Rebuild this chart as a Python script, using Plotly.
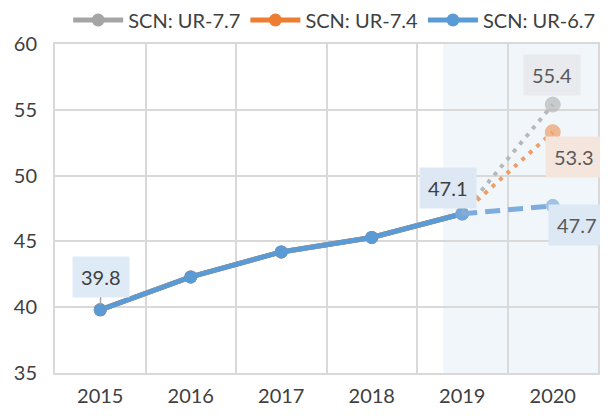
import plotly.graph_objects as go

years = ["2015", "2016", "2017", "2018", "2019", "2020"]
hist_years = ["2015", "2016", "2017", "2018", "2019"]
hist_values = [39.8, 42.3, 44.2, 45.3, 47.1]
fc_years = ["2019", "2020"]
scn_names = ["SCN: UR-7.7", "SCN: UR-7.4", "SCN: UR-6.7"]
scn_2020 = [55.4, 53.3, 47.7]

FONT = "Lato"
colors = ["#A5A5A5", "#ED7D31", "#5B9BD5"]
fc_colors = ["#B8B8B8", "#EE9E68", "#7EADDD"]
fc_dash = ["4px,6px", "4px,6px", "15px,8px"]
fc_width = [4, 4, 5]
fc_msize = [15, 15, 13]

fig = go.Figure()

# historical lines (overlapping; blue on top)
for name, c in zip(scn_names, colors):
    fig.add_trace(go.Scatter(
        x=hist_years, y=hist_values, mode="lines+markers", name=name,
        line=dict(color=c, width=5), marker=dict(color=c, size=13),
    ))

# forecast segments
for i in range(3):
    fig.add_trace(go.Scatter(
        x=fc_years, y=[hist_values[-1], scn_2020[i]], mode="lines+markers",
        showlegend=False, hoverinfo="skip",
        line=dict(color=fc_colors[i], width=fc_width[i], dash=fc_dash[i]),
        marker=dict(color=fc_colors[i], size=[0 if i < 2 else 13, fc_msize[i]],
                    line=dict(color=fc_colors[i], width=1)),
    ))

# forecast shaded region
fig.add_shape(type="rect", xref="x", yref="paper", x0=3.79, x1=5.5, y0=0, y1=1,
              fillcolor="#F1F6FB", line_width=0, layer="below")

label_font = dict(family=FONT, size=20, color="#595959")
dark_font = dict(family=FONT, size=20, color="#404040")
i_2015 = years.index("2015")
i_2019 = years.index("2019")
i_2020 = years.index("2020")
annos = [
    dict(x=i_2015, y=hist_values[0], text=str(hist_values[0]), showarrow=True,
         ax=1, ay=-33, axref="pixel", ayref="pixel", arrowhead=0, arrowwidth=1.5,
         arrowcolor="#A6A6A6", standoff=5, bgcolor="#DEEBF7", borderpad=8, font=dark_font),
    dict(x=i_2019, y=hist_values[-1], text=str(hist_values[-1]), showarrow=False,
         xshift=-14, yshift=26, bgcolor="#DDE8F4", borderpad=8, font=dark_font),
    dict(x=i_2020, y=scn_2020[0], text=str(scn_2020[0]), showarrow=False,
         xshift=-1, yshift=30, bgcolor="#E8EAED", borderpad=8, font=label_font),
    dict(x=i_2020, y=scn_2020[1], text=str(scn_2020[1]), showarrow=False,
         xshift=21, yshift=-25, bgcolor="#F5E6DD", borderpad=8, font=label_font),
    dict(x=i_2020, y=scn_2020[2], text=str(scn_2020[2]), showarrow=False,
         xshift=24, yshift=-19, bgcolor="#DCE8F4", borderpad=8, font=label_font),
]
for a in annos:
    a.update(xref="x", yref="y")

grid = "#D9D9D9"
fig.update_layout(
    width=600, height=408,
    margin=dict(l=47, r=10, t=36, b=43, autoexpand=False),
    paper_bgcolor="white", plot_bgcolor="rgba(0,0,0,0)",
    font=dict(family=FONT, size=20, color="#404040"),
    showlegend=True,
    annotations=annos,
    legend=dict(orientation="h", x=1.004, xanchor="right", xref="paper",
                y=1.073, yanchor="middle", yref="paper",
                traceorder="normal", font=dict(family=FONT, size=20, color="#404040"),
                itemwidth=50, tracegroupgap=0, bgcolor="rgba(0,0,0,0)",
                borderwidth=0),
    xaxis=dict(type="category", categoryarray=years, range=[-0.5, 5.5],
               tickson="boundaries", showgrid=True, gridcolor=grid, gridwidth=2,
               showline=True, linecolor=grid, linewidth=2, mirror=True,
               ticks="", ticklabelstandoff=4, zeroline=False, automargin=False,
               tickfont=dict(family=FONT, size=20, color="#404040")),
    yaxis=dict(range=[35, 60], dtick=5, showgrid=True, gridcolor=grid, gridwidth=2,
               showline=True, linecolor=grid, linewidth=2, mirror=True,
               ticks="", ticklabelstandoff=12, zeroline=False, automargin=False,
               tickfont=dict(family=FONT, size=20, color="#404040")),
)

fig.write_html("out.html")
